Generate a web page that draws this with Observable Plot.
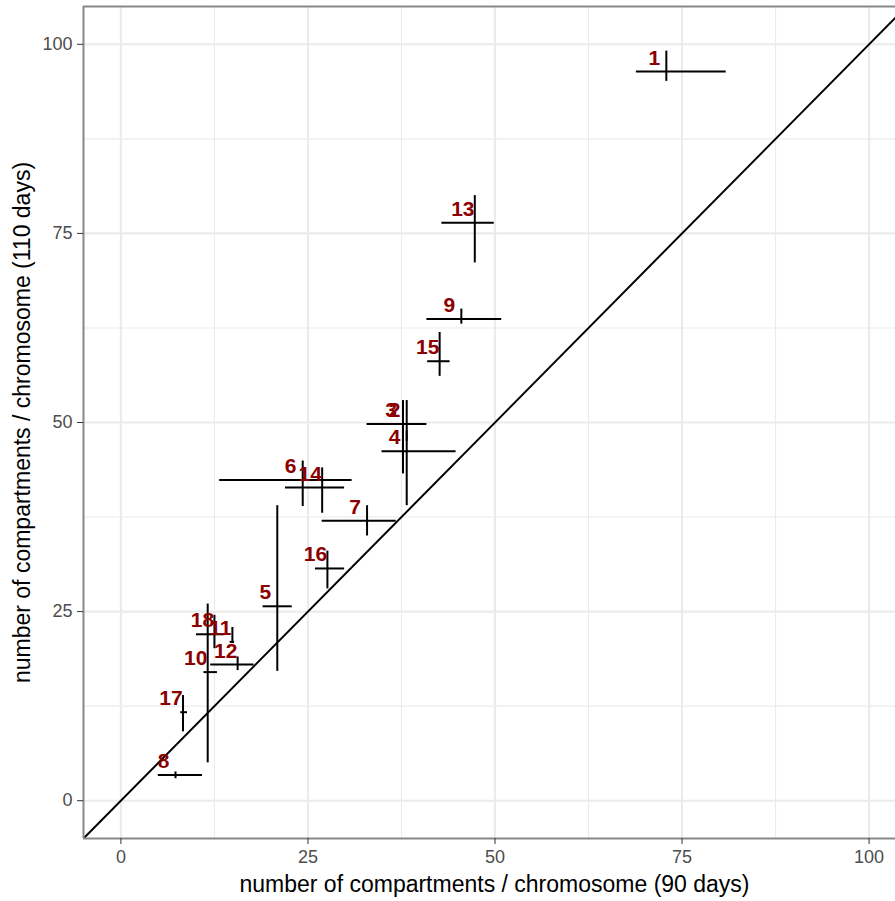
<!DOCTYPE html>
<html>
<head>
<meta charset="utf-8">
<script src="https://cdn.jsdelivr.net/npm/d3@7"></script>
<script src="https://cdn.jsdelivr.net/npm/@observablehq/plot@0.6"></script>
<style>
  html, body { margin: 0; padding: 0; background: white; overflow: hidden; }
  #chart { width: 895px; height: 901px; overflow: hidden; }
</style>
</head>
<body>
<div id="chart"></div>
<script>
// chromosome ids
const ids  = ["1","2","3","4","5","6","7","8","9","10","11","12","13","14","15","16","17","18"];
// 90 days (x): centre, lower, upper
const xMid = [72.9, 38.2, 37.7, 38.2, 20.9, 24.3, 32.9, 7.3, 45.5, 11.6, 14.9, 15.6, 47.3, 26.9, 42.6, 27.6, 8.3, 12.5];
const xLo  = [68.9, 33.1, 32.9, 34.9, 19.0, 13.2, 26.9, 5.0, 40.9, 11.1, 14.6, 12.0, 42.9, 22.0, 41.0, 26.0, 8.0, 10.1];
const xHi  = [80.9, 40.7, 40.9, 44.8, 22.9, 30.9, 36.8, 10.9, 50.9, 12.9, 15.2, 17.8, 49.9, 29.9, 44.0, 29.9, 8.9, 13.9];
// 110 days (y): centre, lower, upper
const yMid = [96.4, 49.8, 49.8, 46.2, 25.7, 42.4, 37.0, 3.4, 63.7, 17.0, 21.0, 18.0, 76.4, 41.4, 58.1, 30.7, 11.7, 22.0];
const yLo  = [95.1, 47.5, 43.2, 39.0, 17.1, 38.9, 35.0, 2.9, 63.0, 5.0, 20.8, 17.2, 71.1, 38.0, 56.1, 28.0, 9.1, 20.1];
const yHi  = [99.1, 52.9, 52.9, 48.9, 39.0, 44.9, 39.0, 3.8, 65.0, 26.0, 22.9, 19.0, 80.0, 44.0, 61.9, 33.0, 13.9, 24.5];

const majorTicks = [0, 25, 50, 75, 100];
const minorTicks = [12.5, 37.5, 62.5, 87.5];
const limits = [-5, 105];
const xTitle = "number of compartments / chromosome (90 days)";
const yTitle = "number of compartments / chromosome (110 days)";

const rows = ids.map((id, i) => ({
  id, x: xMid[i], xmin: xLo[i], xmax: xHi[i], y: yMid[i], ymin: yLo[i], ymax: yHi[i]
}));

const chart = Plot.plot({
  width: 895,
  height: 901,
  marginLeft: 83,
  marginRight: 0,
  marginTop: 6,
  marginBottom: 63,
  style: { fontFamily: "'Liberation Sans', Arial, sans-serif", background: "white" },
  x: { domain: limits, range: [83, 906] },
  y: { domain: limits },
  marks: [
    Plot.gridX(minorTicks, { stroke: "#ebebeb", strokeOpacity: 1, strokeWidth: 1.1 }),
    Plot.gridY(minorTicks, { stroke: "#ebebeb", strokeOpacity: 1, strokeWidth: 1.1 }),
    Plot.gridX(majorTicks, { stroke: "#ebebeb", strokeOpacity: 1, strokeWidth: 2.1 }),
    Plot.gridY(majorTicks, { stroke: "#ebebeb", strokeOpacity: 1, strokeWidth: 2.1 }),
    Plot.line(limits, { x: d => d, y: d => d, stroke: "black", strokeWidth: 2, clip: true }),
    Plot.ruleY(rows, { y: "y", x1: "xmin", x2: "xmax", stroke: "black", strokeWidth: 2 }),
    Plot.ruleX(rows, { x: "x", y1: "ymin", y2: "ymax", stroke: "black", strokeWidth: 2 }),
    Plot.text(rows, {
      x: "x", y: "y", text: "id", dx: -12, dy: -7,
      textAnchor: "middle", lineAnchor: "bottom",
      fontWeight: "bold", fontSize: 21, fill: "#8b0000"
    }),
    Plot.ruleX([limits[0]], { stroke: "#888", strokeWidth: 2 }),
    Plot.ruleY(limits, { stroke: "#888", strokeWidth: 2 }),
    Plot.axisX(majorTicks, {
      tickSize: 6, tickPadding: 6, fontSize: 18, label: null,
      stroke: "#333", fill: "#4d4d4d"
    }),
    Plot.axisY(majorTicks, {
      tickSize: 6, tickPadding: 5, fontSize: 18, label: null,
      stroke: "#333", fill: "#4d4d4d"
    }),
    Plot.text([xTitle], {
      frameAnchor: "bottom", textAnchor: "middle", lineAnchor: "bottom", dx: 5, dy: 53,
      fontSize: 23, fill: "black"
    }),
    Plot.text([yTitle], {
      frameAnchor: "left", textAnchor: "middle", lineAnchor: "bottom", rotate: -90, dx: -54,
      fontSize: 23, fill: "black"
    })
  ]
});
document.getElementById("chart").appendChild(chart);
</script>
</body>
</html>
